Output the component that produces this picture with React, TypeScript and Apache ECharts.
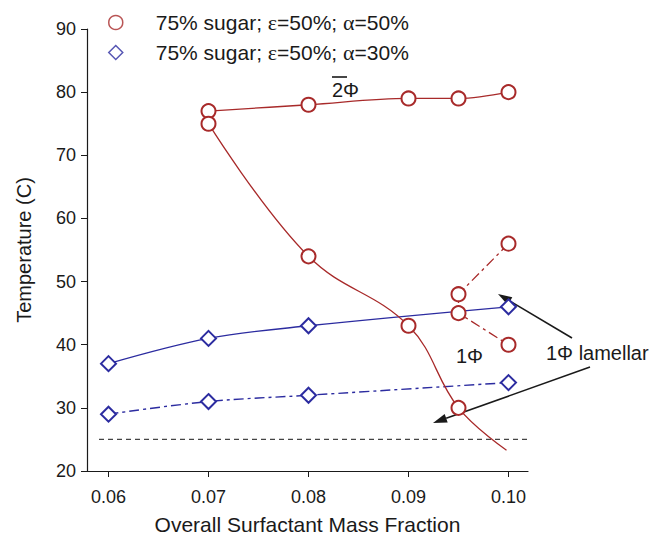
import React, { useEffect, useRef } from 'react';
import * as echarts from 'echarts';

const legendNames = ['{s| }75% sugar; {g|ε}=50%; {g|α}=50%', '{s| }75% sugar; {g|ε}=50%; {g|α}=30%'];
const legendKeys = ['a50', 'a30'];
const xTicks = [0.06, 0.07, 0.08, 0.09, 0.1];

const redUpperX = [0.07, 0.08, 0.09, 0.095, 0.1];
const redUpperY = [77, 78, 79, 79, 80];
const redLowerX = [0.07, 0.08, 0.09, 0.095];
const redLowerY = [75, 54, 43, 30];
const redLowerTail = [0.0998, 23.3];
const redBranchX = [0.1, 0.095, 0.095, 0.1];
const redBranchY = [56, 48, 45, 40];
const blueSolidX = [0.06, 0.07, 0.08, 0.1];
const blueSolidY = [37, 41, 43, 46];
const blueDashX = [0.06, 0.07, 0.08, 0.1];
const blueDashY = [29, 31, 32, 34];
const refLineX = [0.05905, 0.10185];
const refLineY = 25;

const RED = '#a82a2a';
const BLUE = '#2c2ca0';
const INK = '#1a1a1a';
const FONT = '"Liberation Sans", Arial, sans-serif';
const DASHDOT = [10, 4, 3, 4];

const zip = (xs: number[], ys: number[]) => xs.map((x, i) => [x, ys[i]]);

function arrow(x1: number, y1: number, x2: number, y2: number) {
  const ang = Math.atan2(y2 - y1, x2 - x1);
  const L = 14, W = 4.5;
  const bx = x2 - L * Math.cos(ang), by = y2 - L * Math.sin(ang);
  const px = -Math.sin(ang) * W, py = Math.cos(ang) * W;
  return [
    { type: 'line', shape: { x1, y1, x2: bx, y2: by }, style: { stroke: INK, lineWidth: 1.6 } },
    { type: 'polygon', shape: { points: [[x2, y2], [bx + px, by + py], [bx - px, by - py]] }, style: { fill: INK } },
  ];
}

export default function App() {
  const ref = useRef<HTMLDivElement>(null);
  useEffect(() => {
    document.body.style.margin = '0';
    const chart = echarts.init(ref.current!, null, { renderer: 'svg' });
    const lineBase = { type: 'line', smooth: 0.35, symbolSize: 14, z: 3 };
    chart.setOption({
      animation: false,
      grid: { left: 87, right: 128, top: 29, bottom: 64, outerBoundsMode: 'none', containLabel: false },
      legend: {
        orient: 'vertical',
        left: 103,
        top: 6.5,
        itemWidth: 14,
        itemHeight: 14,
        itemGap: 8,
        formatter: (n: string) => legendNames[legendKeys.indexOf(n)],
        textStyle: {
          fontFamily: FONT,
          fontSize: 21,
          lineHeight: 22,
          color: INK,
          rich: {
            s: { width: 28, fontSize: 21, lineHeight: 22 },
            g: { fontFamily: '"Liberation Serif", serif', fontSize: 22, lineHeight: 22, color: INK },
          },
        },
        data: [
          { name: 'a50', icon: 'circle', itemStyle: { color: '#fff', borderColor: RED, borderWidth: 1.5 } },
          { name: 'a30', icon: 'diamond', itemStyle: { color: '#fff', borderColor: BLUE, borderWidth: 1.5 } },
        ],
      },
      xAxis: {
        type: 'value',
        min: 0.05785,
        max: 0.10195,
        name: 'Overall Surfactant Mass Fraction',
        nameLocation: 'middle',
        nameGap: 43,
        nameTextStyle: { fontFamily: FONT, fontSize: 21, color: INK },
        axisLine: { lineStyle: { color: INK, width: 1.2 } },
        axisTick: { customValues: xTicks, length: 6, lineStyle: { color: INK } },
        axisLabel: {
          customValues: xTicks,
          formatter: (v: number) => v.toFixed(2),
          fontFamily: FONT,
          fontSize: 18,
          color: INK,
          margin: 17,
        },
        splitLine: { show: false },
      },
      yAxis: {
        type: 'value',
        min: 20,
        max: 90,
        interval: 10,
        name: 'Temperature (C)',
        nameLocation: 'middle',
        nameGap: 53,
        nameTextStyle: { fontFamily: FONT, fontSize: 20, color: INK },
        axisLine: { show: true, lineStyle: { color: INK, width: 1.2 } },
        axisTick: { show: true, length: 6, lineStyle: { color: INK } },
        axisLabel: { fontFamily: FONT, fontSize: 18, color: INK, margin: 11 },
        splitLine: { show: false },
      },
      series: [
        { name: 'a50', type: 'scatter', data: [] },
        { name: 'a30', type: 'scatter', data: [] },
        {
          name: 'ref25', type: 'line', data: refLineX.map((x) => [x, refLineY]), symbol: 'none',
          lineStyle: { color: '#444', width: 1.2, type: [5, 4] }, z: 1,
        },
        {
          ...lineBase, name: 'blueSolid', data: zip(blueSolidX, blueSolidY), symbol: 'emptyDiamond', symbolSize: 15,
          itemStyle: { color: BLUE, borderColor: BLUE, borderWidth: 1.6 }, lineStyle: { color: BLUE, width: 1.4 },
        },
        {
          ...lineBase, name: 'blueDash', data: zip(blueDashX, blueDashY), symbol: 'emptyDiamond', symbolSize: 15,
          itemStyle: { color: BLUE, borderColor: BLUE, borderWidth: 1.6 }, lineStyle: { color: BLUE, width: 1.4, type: DASHDOT },
        },
        {
          ...lineBase, name: 'redUpper', data: zip(redUpperX, redUpperY), symbol: 'emptyCircle',
          itemStyle: { color: RED, borderColor: RED, borderWidth: 1.5 }, lineStyle: { color: RED, width: 1.3 },
        },
        {
          ...lineBase, name: 'redLower', smooth: 0.4,
          data: [...zip(redLowerX, redLowerY), { value: redLowerTail, symbol: 'none' }],
          symbol: 'emptyCircle',
          itemStyle: { color: RED, borderColor: RED, borderWidth: 1.5 }, lineStyle: { color: RED, width: 1.3 },
        },
        {
          ...lineBase, name: 'redBranch', smooth: false, data: zip(redBranchX, redBranchY), symbol: 'emptyCircle',
          itemStyle: { color: RED, borderColor: RED, borderWidth: 1.5 }, lineStyle: { color: RED, width: 1.3, type: DASHDOT },
        },
      ],
      graphic: [
        { type: 'text', left: 332, top: 80, style: { text: '2Φ', font: `20px ${FONT}`, fill: INK } },
        { type: 'line', shape: { x1: 332, y1: 77, x2: 347, y2: 77 }, style: { stroke: INK, lineWidth: 1.6 } },
        { type: 'text', left: 456, top: 346, style: { text: '1Φ', font: `20px ${FONT}`, fill: INK } },
        { type: 'text', left: 546, top: 343, style: { text: '1Φ lamellar', font: `20px ${FONT}`, fill: INK } },
        ...arrow(572, 338, 498, 294),
        ...arrow(590, 367, 433, 423),
      ],
    });
    return () => chart.dispose();
  }, []);
  return <div ref={ref} style={{ width: 656, height: 535 }} />;
}
